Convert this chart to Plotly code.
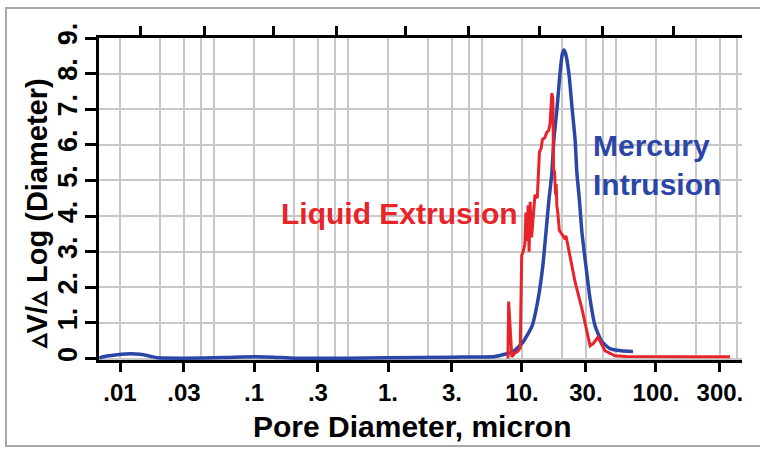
import plotly.graph_objects as go

# ---- data ----
mercury_x = [0.007, 0.008, 0.0095, 0.011, 0.013, 0.015, 0.017, 0.019, 0.03, 0.06, 0.1, 0.14, 0.2,
             0.5, 1.0, 3.0, 6.3, 8.6, 10.2, 11.9, 13.2, 14.3, 15.1, 15.9, 16.7, 17.3, 18.3, 19.2,
             20.0, 20.6, 21.2, 22.4, 23.6, 24.9, 25.7, 26.8, 28.0, 30.0, 32.2, 35.1, 39.5, 45.4,
             55.0, 67.3]
mercury_y = [0.02, 0.07, 0.11, 0.13, 0.13, 0.11, 0.06, 0.02, 0.01, 0.03, 0.05, 0.04, 0.01,
             0.01, 0.02, 0.04, 0.06, 0.2, 0.47, 0.92, 1.68, 2.6, 3.55, 4.47, 5.2, 6.15, 7.07, 8.0,
             8.55, 8.66, 8.55, 8.0, 7.07, 6.15, 5.2, 4.47, 3.55, 2.6, 1.68, 0.92, 0.47, 0.28,
             0.22, 0.2]

liquid_x = [7.85, 7.95, 8.4, 8.8, 9.3, 9.7, 9.95, 10.2, 10.5, 10.7, 10.9, 11.1, 11.3, 11.5,
            11.8, 12.1, 12.5, 13.0, 13.5, 13.9, 14.2, 14.8, 15.3, 15.8, 16.2, 16.7, 17.0, 17.2,
            17.5, 17.8, 18.0, 18.2, 18.5, 19.0, 20.2, 21.0, 21.3, 22.0, 24.9, 28.0, 30.5, 32.2,
            34.0, 36.9, 41.6, 49.4, 60.0, 100.0, 200.0, 357.0]
liquid_y = [0.0, 1.6, 0.05, 0.15, 0.2, 0.3, 2.9, 3.0, 3.2, 4.1, 3.3, 4.3, 3.0, 4.4,
            3.4, 4.0, 4.6, 4.5, 5.8, 5.9, 6.15, 6.2, 6.35, 6.4, 6.6, 7.45, 7.3, 5.3,
            5.25, 4.6, 4.9, 4.3, 4.1, 3.6, 3.45, 3.35, 3.45, 3.2, 2.15, 1.4, 0.75, 0.36,
            0.42, 0.6, 0.22, 0.08, 0.06, 0.05, 0.05, 0.05]

x_tick_vals = [0.01, 0.03, 0.1, 0.3, 1, 3, 10, 30, 100, 300]
x_tick_text = [".01", ".03", ".1", ".3", "1.", "3.", "10.", "30.", "100.", "300."]
y_tick_vals = [0, 1, 2, 3, 4, 5, 6, 7, 8, 9]
y_tick_text = ["0", "1.", "2.", "3.", "4.", "5.", "6.", "7.", "8.", "9."]
grid_vals = [m * 10 ** e for e in range(-2, 3) for m in (1, 2, 3, 4, 5)]
top_tick_vals = [0.0141, 0.0424, 0.1386, 0.416, 1.34, 4.02, 13.6, 40.2, 134]

RED = "#e8232a"
BLUE = "#2b46a6"
FONT = "Liberation Sans, Arial, sans-serif"
xrange_log = [-2.157, 2.642]

fig = go.Figure()
fig.add_trace(go.Scatter(x=mercury_x, y=mercury_y, mode="lines",
                         line=dict(color=BLUE, width=3.5, shape="spline", smoothing=0.5),
                         showlegend=False, hoverinfo="skip"))
fig.add_trace(go.Scatter(x=liquid_x, y=liquid_y, mode="lines",
                         line=dict(color=RED, width=3),
                         showlegend=False, hoverinfo="skip"))

fig.update_layout(
    width=760, height=449,
    margin=dict(l=99, r=18, t=38, b=89),
    paper_bgcolor="white", plot_bgcolor="white",
    xaxis=dict(type="log", range=xrange_log, tickmode="array",
               tickvals=x_tick_vals, ticktext=x_tick_text,
               ticks="outside", ticklen=9, tickwidth=2.5, tickcolor="black",
               showline=True, linewidth=3, linecolor="black",
               showgrid=False, zeroline=False,
               tickfont=dict(family=FONT, size=24, color="black", weight="bold")),
    xaxis2=dict(type="log", range=xrange_log, overlaying="x", side="top", anchor="y",
                tickmode="array", tickvals=top_tick_vals, showticklabels=False,
                ticks="outside", ticklen=9, tickwidth=2.5, tickcolor="black",
                showline=True, linewidth=3, linecolor="black",
                showgrid=False, zeroline=False),
    xaxis3=dict(type="log", range=xrange_log, overlaying="x", anchor="y",
                tickmode="array", tickvals=grid_vals, showticklabels=False,
                ticks="", showline=False, showgrid=True,
                gridcolor="#c8c8c8", gridwidth=2, zeroline=False, layer="below traces"),
    yaxis=dict(range=[-0.04, 9], tickmode="array", tickvals=y_tick_vals,
               ticktext=y_tick_text, tickangle=-90,
               ticks="outside", ticklen=11, tickwidth=2.5, tickcolor="black",
               showline=True, linewidth=3, linecolor="black",
               showgrid=True, gridcolor="#c8c8c8", gridwidth=2, zeroline=False,
               ticklabelstandoff=-3,
               tickfont=dict(family=FONT, size=27, color="black", weight="bold")),
)

# dummy traces to activate the overlay axes
fig.add_trace(go.Scatter(x=[1], y=[None], xaxis="x2", showlegend=False, hoverinfo="skip"))
fig.add_trace(go.Scatter(x=[1], y=[None], xaxis="x3", showlegend=False, hoverinfo="skip"))

fig.add_annotation(text="Pore Diameter, micron", xref="paper", yref="paper",
                   x=0.487, y=-0.205, xanchor="center", yanchor="middle", showarrow=False,
                   font=dict(family=FONT, size=30, color="black", weight="bold"))
fig.add_annotation(text="▵V/▵ Log (Diameter)", xref="paper", yref="paper",
                   x=-0.095, y=0.455, xanchor="center", yanchor="middle", textangle=-90,
                   showarrow=False,
                   font=dict(family=FONT, size=29, color="black", weight="bold"))
fig.add_annotation(text="Liquid Extrusion", xref="paper", yref="paper",
                   x=(399 - 99) / 643, y=(360 - 214) / 322, xanchor="center", yanchor="middle",
                   showarrow=False, font=dict(family=FONT, size=30, color=RED, weight="bold"))
fig.add_annotation(text="Mercury<br>Intrusion", xref="paper", yref="paper",
                   x=(591 - 99) / 643, y=(360 - 165) / 322, xanchor="left", yanchor="middle",
                   align="left", showarrow=False,
                   font=dict(family=FONT, size=30, color=BLUE, weight="bold"))

fig.add_shape(type="rect", xref="paper", yref="paper",
              x0=(6 - 99) / 643, x1=(764 - 99) / 643, y0=(360 - 446) / 322, y1=(360 - 8) / 322,
              line=dict(color="#a8a8a8", width=2), layer="below")

fig.write_html("out.html")
